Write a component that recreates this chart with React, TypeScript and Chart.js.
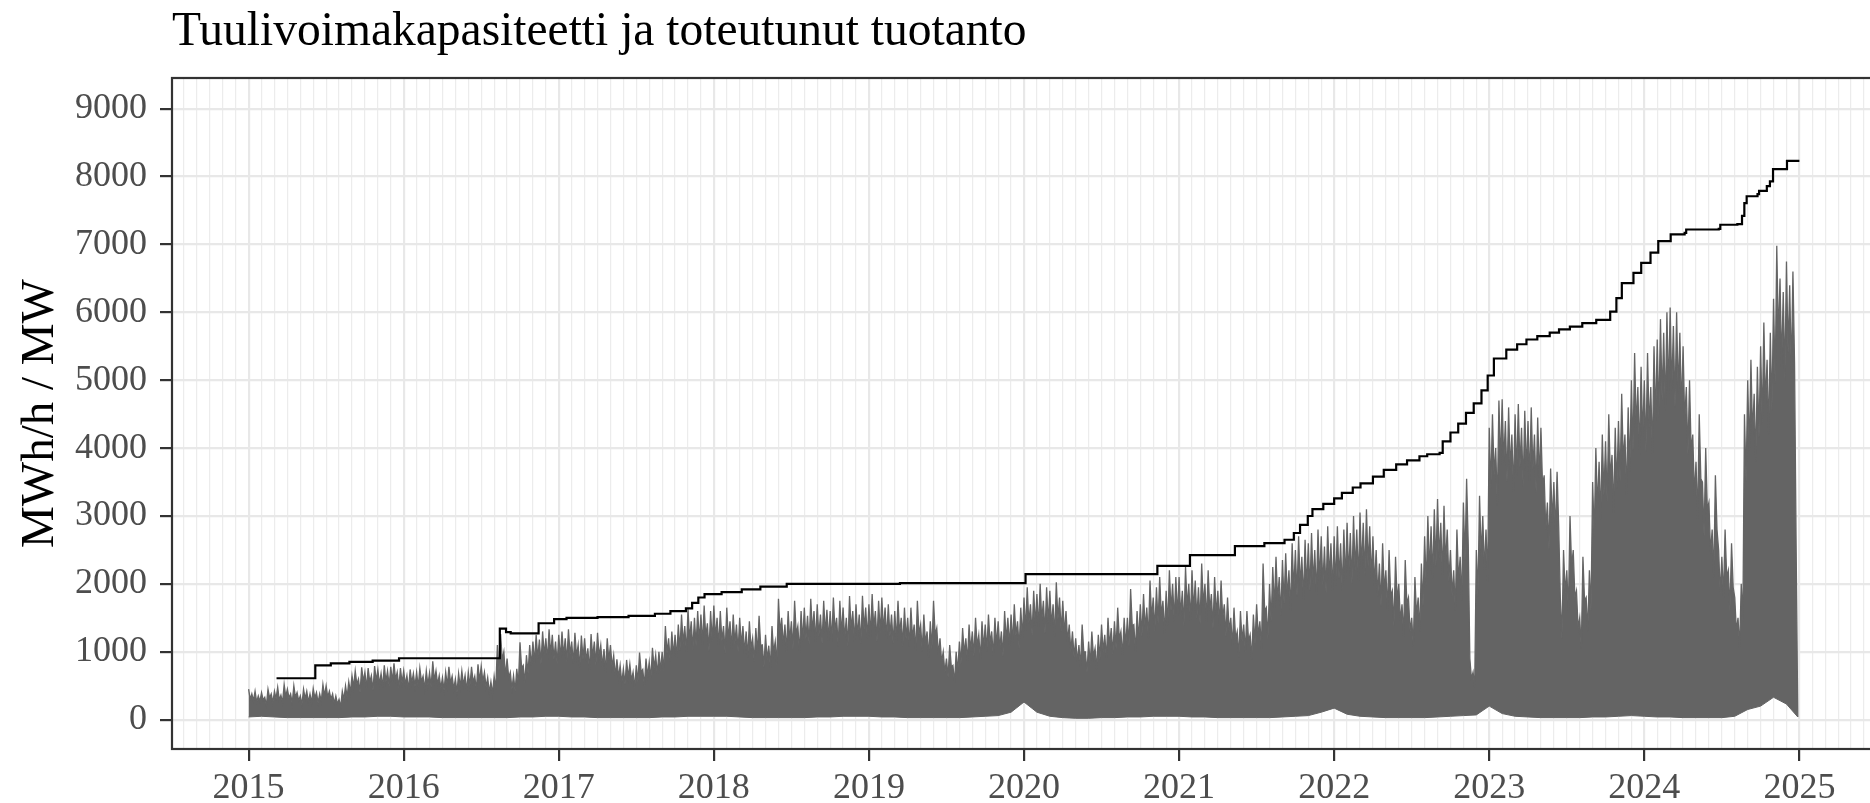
import React, { useEffect, useRef } from 'react';
import { Chart, registerables } from 'chart.js';

Chart.register(...registerables);

// ---------- texts ----------
const titleText = 'Tuulivoimakapasiteetti ja toteutunut tuotanto';
const yAxisTitle = 'MWh/h / MW';

// ---------- tick labels ----------
const yTickValues = [0, 1000, 2000, 3000, 4000, 5000, 6000, 7000, 8000, 9000];
const xYearTicks = [2015, 2016, 2017, 2018, 2019, 2020, 2021, 2022, 2023, 2024, 2025];

// ---------- installed capacity (MW), step changes, decimal year ----------
const capYears = [
  2015.18, 2015.43, 2015.53, 2015.65, 2015.8, 2015.97, 2016.62, 2016.66, 2016.69, 2016.87,
  2016.97, 2017.05, 2017.25, 2017.45, 2017.62, 2017.72, 2017.82, 2017.86, 2017.9, 2017.94,
  2018.05, 2018.18, 2018.3, 2018.47, 2019.2, 2020.01, 2020.86, 2021.07, 2021.36, 2021.55,
  2021.68, 2021.74, 2021.78, 2021.83, 2021.86, 2021.93, 2022.0, 2022.05, 2022.12, 2022.17,
  2022.25, 2022.32, 2022.4, 2022.47, 2022.55, 2022.6, 2022.68, 2022.7, 2022.75, 2022.8,
  2022.85, 2022.9, 2022.95, 2022.99, 2023.03, 2023.11, 2023.18, 2023.24, 2023.31, 2023.39,
  2023.45, 2023.52, 2023.6, 2023.69, 2023.78, 2023.82, 2023.855, 2023.93, 2023.98, 2024.04,
  2024.09, 2024.17, 2024.26, 2024.27, 2024.48, 2024.49, 2024.6, 2024.63, 2024.645, 2024.66,
  2024.73, 2024.74, 2024.79, 2024.81, 2024.83, 2024.92, 2025.0,
];
const capMW = [
  610, 800, 830, 850, 870, 905, 1340, 1290, 1270, 1420,
  1480, 1500, 1510, 1530, 1560, 1600, 1640, 1720, 1800, 1850,
  1880, 1920, 1960, 2000, 2010, 2145, 2265, 2425, 2555, 2600,
  2650, 2750, 2870, 3000, 3100, 3180, 3260, 3340, 3420, 3480,
  3580, 3680, 3760, 3820, 3880, 3910, 3930, 4100, 4230, 4360,
  4520, 4660, 4850, 5070, 5320, 5450, 5530, 5600, 5650, 5700,
  5750, 5790, 5840, 5890, 6010, 6210, 6430, 6580, 6730, 6880,
  7050, 7150, 7170, 7220, 7230, 7290, 7300, 7420, 7610, 7710,
  7740, 7790, 7860, 7930, 8110, 8230, 8230,
];

// ---------- realised production (MWh/h) ----------
// alternating short-term high / solid-body level, 8 values per month (Jan..Dec)
const prod2015 = [
  450, 300, 380, 280, 420, 260, 350, 270,
  400, 290, 330, 210, 450, 320, 380, 250,
  420, 310, 480, 290, 360, 250, 520, 340,
  450, 320, 380, 240, 500, 330, 400, 280,
  350, 220, 450, 310, 420, 260, 380, 250,
  460, 320, 400, 250, 380, 270, 520, 350,
  500, 330, 420, 300, 380, 240, 350, 230,
  300, 190, 420, 300, 500, 330, 560, 400,
  650, 480, 720, 520, 600, 400, 770, 560,
  700, 470, 760, 550, 650, 430, 790, 570,
  740, 520, 680, 480, 800, 560, 720, 500,
  780, 560, 830, 590, 700, 470, 760, 540,
];
const prod2016 = [
  720, 520, 650, 440, 740, 540, 680, 490,
  700, 480, 760, 560, 640, 450, 720, 510,
  690, 480, 860, 580, 720, 520, 650, 460,
  620, 430, 700, 500, 780, 540, 640, 450,
  600, 400, 680, 480, 720, 510, 650, 430,
  700, 500, 780, 550, 640, 440, 815, 570,
  790, 560, 700, 480, 620, 400, 560, 380,
  640, 450, 1100, 720, 1260, 880, 1000, 640,
  900, 620, 700, 450, 650, 420, 750, 520,
  1140, 760, 800, 540, 950, 680, 1100, 790,
  1150, 840, 1250, 900, 1180, 820, 1300, 950,
  1200, 880, 1330, 960, 1250, 890, 1150, 820,
];
const prod2017 = [
  1250, 900, 1300, 940, 1200, 850, 1330, 960,
  1150, 820, 1280, 930, 1100, 760, 1240, 890,
  1200, 860, 1050, 720, 1260, 920, 1150, 810,
  1280, 930, 1100, 780, 1040, 700, 1200, 870,
  1100, 780, 950, 640, 890, 620, 800, 540,
  750, 520, 880, 620, 820, 580, 700, 470,
  800, 560, 990, 700, 740, 500, 900, 640,
  850, 600, 1060, 760, 950, 660, 1000, 720,
  1000, 720, 1380, 980, 1200, 850, 1300, 940,
  1250, 900, 1400, 1020, 1550, 1120, 1380, 990,
  1630, 1180, 1450, 1030, 1500, 1090, 1600, 1160,
  1550, 1110, 1680, 1220, 1420, 1010, 1600, 1150,
];
const prod2018 = [
  1680, 1210, 1500, 1080, 1600, 1160, 1380, 980,
  1650, 1190, 1450, 1040, 1550, 1120, 1400, 1000,
  1500, 1090, 1380, 980, 1300, 920, 1450, 1050,
  1200, 850, 1350, 970, 1530, 1090, 1100, 770,
  1250, 880, 1090, 760, 1380, 990, 1150, 810,
  1780, 1280, 1500, 1090, 1400, 1000, 1600, 1160,
  1450, 1040, 1750, 1260, 1380, 990, 1600, 1150,
  1650, 1190, 1530, 1100, 1780, 1290, 1600, 1150,
  1700, 1230, 1550, 1120, 1750, 1270, 1620, 1170,
  1600, 1150, 1800, 1310, 1500, 1080, 1750, 1260,
  1650, 1190, 1500, 1080, 1820, 1320, 1600, 1150,
  1700, 1230, 1550, 1120, 1825, 1330, 1650, 1190,
];
const prod2019 = [
  1700, 1230, 1850, 1350, 1600, 1150, 1750, 1270,
  1800, 1310, 1650, 1190, 1700, 1230, 1550, 1120,
  1600, 1160, 1750, 1270, 1500, 1080, 1650, 1190,
  1500, 1080, 1650, 1200, 1400, 1000, 1750, 1260,
  1400, 1010, 1550, 1120, 1300, 920, 1450, 1040,
  1750, 1250, 1350, 960, 1200, 850, 1000, 690,
  900, 620, 1100, 780, 800, 540, 1000, 700,
  1150, 820, 1350, 970, 1200, 850, 1400, 1010,
  1300, 930, 1500, 1080, 1250, 890, 1450, 1040,
  1400, 1010, 1550, 1120, 1300, 930, 1500, 1090,
  1450, 1050, 1300, 930, 1600, 1160, 1500, 1090,
  1550, 1120, 1700, 1240, 1450, 1050, 1650, 1200,
];
const prod2020 = [
  1800, 1310, 1950, 1420, 1700, 1240, 1900, 1390,
  1850, 1350, 2000, 1460, 1750, 1270, 1950, 1420,
  1900, 1380, 1700, 1230, 2025, 1480, 1800, 1300,
  1750, 1260, 1600, 1150, 1400, 1000, 1300, 920,
  1200, 850, 1100, 770, 1400, 1000, 1000, 690,
  1150, 810, 1300, 930, 1050, 740, 1250, 890,
  1400, 1000, 1250, 890, 1500, 1080, 1350, 960,
  1450, 1040, 1650, 1190, 1300, 930, 1500, 1080,
  1500, 1080, 1925, 1380, 1400, 1000, 1600, 1160,
  1700, 1230, 1850, 1340, 1650, 1190, 2050, 1490,
  1800, 1310, 1950, 1420, 2100, 1530, 1750, 1270,
  1900, 1380, 2200, 1600, 2000, 1450, 2100, 1530,
];
const prod2021 = [
  2100, 1530, 1900, 1380, 2250, 1640, 2000, 1450,
  2200, 1600, 2050, 1490, 1950, 1410, 2300, 1680,
  2000, 1450, 2200, 1600, 1850, 1340, 2100, 1530,
  1900, 1380, 2050, 1490, 1700, 1230, 1800, 1300,
  1500, 1080, 1650, 1190, 1300, 920, 1600, 1160,
  1400, 1000, 1600, 1160, 1250, 890, 1550, 1120,
  1700, 1230, 1450, 1040, 2300, 1600, 1650, 1190,
  2000, 1450, 2250, 1640, 2400, 1750, 2100, 1530,
  2350, 1710, 2450, 1790, 2200, 1600, 2600, 1900,
  2500, 1820, 2700, 1970, 2400, 1750, 2650, 1930,
  2600, 1900, 2750, 2010, 2500, 1820, 2800, 2040,
  2700, 1970, 2550, 1860, 2850, 2080, 2600, 1900,
];
const prod2022 = [
  2700, 1970, 2850, 2080, 2600, 1900, 2800, 2040,
  2900, 2120, 2750, 2000, 3000, 2190, 2800, 2040,
  3050, 2230, 2900, 2120, 3100, 2260, 2850, 2080,
  2700, 1970, 2500, 1820, 2300, 1670, 2600, 1900,
  2200, 1600, 2500, 1820, 1900, 1380, 2400, 1750,
  2000, 1450, 1700, 1230, 2350, 1710, 1800, 1300,
  1500, 1080, 2100, 1530, 1800, 1300, 2300, 1670,
  2700, 1970, 3000, 2190, 2850, 2080, 3100, 2260,
  3250, 2370, 2900, 2120, 3150, 2300, 2800, 2040,
  2500, 1820, 2200, 1600, 2800, 2040, 2400, 1750,
  3200, 2340, 3550, 2590, 900, 600, 700, 480,
  2500, 1820, 3300, 2410, 3000, 2190, 2800, 2040,
];
const prod2023 = [
  4300, 3400, 4500, 3600, 4000, 3150, 4700, 3750,
  4720, 3780, 4400, 3500, 4600, 3680, 4200, 3350,
  4500, 3600, 4650, 3720, 4300, 3430, 4550, 3640,
  4400, 3520, 4600, 3680, 4200, 3350, 4450, 3560,
  4300, 3440, 3600, 2800, 3200, 2500, 3700, 2900,
  3500, 2750, 3650, 2850, 1800, 1200, 2500, 1850,
  2200, 1600, 3000, 2250, 2500, 1800, 1900, 1350,
  1500, 1050, 2400, 1750, 1800, 1300, 2200, 1600,
  3500, 2700, 4000, 3100, 3800, 2950, 4200, 3300,
  4100, 3200, 4500, 3550, 3900, 3050, 4300, 3400,
  4400, 3500, 4800, 3800, 4200, 3300, 4600, 3650,
  5000, 3950, 5400, 4300, 4900, 3900, 5200, 4150,
];
const prod2024 = [
  5000, 3950, 5400, 4300, 4900, 3900, 5500, 4400,
  5600, 4450, 5900, 4700, 5700, 4550, 6000, 4800,
  6070, 4850, 5800, 4600, 6000, 4800, 5700, 4550,
  5500, 4400, 4900, 3900, 5000, 3950, 4200, 3300,
  3800, 2950, 4500, 3550, 3500, 2700, 4000, 3100,
  3200, 2450, 2800, 2100, 3600, 2800, 2500, 1850,
  2400, 1800, 2800, 2100, 2200, 1600, 2600, 1950,
  1800, 1300, 1500, 1050, 2000, 1450, 4500, 3500,
  5000, 3950, 5300, 4200, 4800, 3800, 5200, 4150,
  5500, 4350, 5850, 4650, 5300, 4200, 5700, 4550,
  6200, 4950, 6980, 5600, 6500, 5200, 6300, 5000,
  6750, 5400, 6400, 5100, 6600, 5250, 2500, 40,
];
const productionYears: [number, number[]][] = [
  [2015, prod2015], [2016, prod2016], [2017, prod2017], [2018, prod2018], [2019, prod2019],
  [2020, prod2020], [2021, prod2021], [2022, prod2022], [2023, prod2023], [2024, prod2024],
];
// monthly lowest production level (Jan 2015 .. Jan 2025)
const prodFloorMonthly = [
  40, 50, 40, 30, 30, 30, 30, 30, 40, 40, 50, 50,
  40, 40, 40, 30, 30, 30, 30, 30, 30, 40, 40, 50,
  50, 40, 40, 30, 30, 30, 30, 30, 40, 40, 50, 50,
  50, 50, 40, 30, 30, 30, 30, 30, 40, 40, 50, 50,
  50, 40, 40, 30, 30, 30, 30, 30, 40, 50, 60, 110,
  260, 110, 50, 30, 20, 20, 30, 30, 40, 40, 50, 50,
  50, 40, 40, 30, 30, 30, 30, 30, 40, 50, 60, 110,
  170, 80, 50, 40, 30, 30, 30, 30, 40, 50, 60, 70,
  200, 90, 50, 40, 30, 30, 30, 30, 40, 40, 50, 60,
  50, 40, 40, 30, 30, 30, 30, 50, 150, 200, 330, 230,
  40,
];
const FLOOR_START_YEAR = 2015;

// ---------- axis limits ----------
const X_MIN = 2014.506;
const X_MAX = 2025.494;
const Y_MIN = -432;
const Y_MAX = 9452;

const SERIF = '"Liberation Serif", "Times New Roman", serif';
const PROD_COLOR = '#646464';

const isYear = (v: number) => Math.abs(v - Math.round(v)) < 1e-6;

export default function App() {
  const canvasRef = useRef<HTMLCanvasElement | null>(null);

  useEffect(() => {
    const canvas = canvasRef.current;
    if (!canvas) return;

    const capData = capYears.map((x, i) => ({ x, y: capMW[i] }));
    const prodData: { x: number; y: number }[] = [];
    productionYears.forEach(([yr, vals]) => {
      vals.forEach((v, i) => prodData.push({ x: yr + i / vals.length, y: v }));
    });
    const lastX = prodData[prodData.length - 1].x;
    const floorData = prodFloorMonthly.map((v, i) => ({
      x: Math.min(FLOOR_START_YEAR + i / 12, lastX),
      y: v,
    }));

    const monthTicks: number[] = [];
    for (let m = Math.ceil(X_MIN * 12 - 1e-9); m <= Math.floor(X_MAX * 12); m++) monthTicks.push(m / 12);

    const textPlugin = {
      id: 'textPlugin',
      afterDraw(chart: any) {
        const { ctx, chartArea } = chart;
        ctx.save();
        // panel border
        ctx.strokeStyle = '#333333';
        ctx.lineWidth = 2.2;
        ctx.strokeRect(chartArea.left, chartArea.top, chartArea.right - chartArea.left, chartArea.bottom - chartArea.top);
        // title
        ctx.fillStyle = '#000000';
        ctx.font = `47.5px ${SERIF}`;
        ctx.textAlign = 'left';
        ctx.textBaseline = 'alphabetic';
        ctx.fillText(titleText, chartArea.left, 45);
        // y axis title
        ctx.save();
        ctx.font = `47px ${SERIF}`;
        ctx.translate(53, (chartArea.top + chartArea.bottom) / 2);
        ctx.rotate(-Math.PI / 2);
        ctx.textAlign = 'center';
        ctx.textBaseline = 'alphabetic';
        ctx.fillText(yAxisTitle, 0, 0);
        ctx.restore();
        ctx.restore();
      },
    };

    const chart = new Chart(canvas, {
      type: 'line',
      data: {
        datasets: [
          {
            label: 'Kapasiteetti',
            data: capData,
            borderColor: '#000000',
            borderWidth: 2.2,
            pointRadius: 0,
            stepped: true,
            fill: false,
          },
          {
            label: 'Tuotanto',
            data: prodData,
            borderColor: PROD_COLOR,
            backgroundColor: PROD_COLOR,
            borderWidth: 1.3,
            pointRadius: 0,
            tension: 0,
            fill: '+1',
          },
          {
            label: 'Tuotanto minimi',
            data: floorData,
            borderColor: PROD_COLOR,
            borderWidth: 1,
            pointRadius: 0,
            tension: 0,
            fill: false,
          },
        ],
      },
      options: {
        responsive: false,
        animation: false,
        parsing: false,
        normalized: true,
        layout: { padding: { top: 78, left: 0, right: 0, bottom: 0 } },
        plugins: {
          legend: { display: false },
          tooltip: { enabled: false },
          title: { display: false },
          filler: { propagate: false },
        },
        scales: {
          x: {
            type: 'linear',
            min: X_MIN,
            max: X_MAX,
            afterBuildTicks: (s: any) => {
              s.ticks = monthTicks.map((v) => ({ value: v }));
            },
            afterFit: (s: any) => {
              s.height = 54;
            },
            ticks: {
              autoSkip: false,
              maxRotation: 0,
              minRotation: 0,
              padding: 6,
              color: '#4d4d4d',
              font: { family: SERIF, size: 36 },
              callback: (v: any) => {
                const n = Number(v);
                return isYear(n) && xYearTicks.includes(Math.round(n)) ? String(Math.round(n)) : '';
              },
            },
            grid: {
              color: (c: any) => (c.tick && isYear(c.tick.value) ? '#e8e8e8' : '#ececec'),
              lineWidth: (c: any) => (c.tick && isYear(c.tick.value) ? 2.2 : 1.2),
              drawTicks: true,
              tickLength: 12,
              tickColor: (c: any) =>
                c.tick && isYear(c.tick.value) && xYearTicks.includes(Math.round(c.tick.value)) ? '#333333' : 'rgba(0,0,0,0)',
              tickWidth: 2.2,
            },
            border: { display: false },
          },
          y: {
            type: 'linear',
            min: Y_MIN,
            max: Y_MAX,
            afterBuildTicks: (s: any) => {
              s.ticks = yTickValues.map((v) => ({ value: v }));
            },
            afterFit: (s: any) => {
              s.width = 172;
            },
            ticks: {
              padding: 13,
              color: '#4d4d4d',
              font: { family: SERIF, size: 36 },
              callback: (v: any) => String(v),
            },
            grid: {
              color: '#e8e8e8',
              lineWidth: 2.2,
              drawTicks: true,
              tickLength: 12,
              tickColor: '#333333',
              tickWidth: 2.2,
            },
            border: { display: false },
          },
        },
      },
      plugins: [textPlugin],
    } as any);

    return () => chart.destroy();
  }, []);

  return (
    <div style={{ position: 'absolute', left: 0, top: 0, width: 1870, height: 803, overflow: 'hidden', background: '#ffffff' }}>
      <canvas ref={canvasRef} width={1876} height={803} style={{ width: 1876, height: 803, display: 'block' }} />
    </div>
  );
}
